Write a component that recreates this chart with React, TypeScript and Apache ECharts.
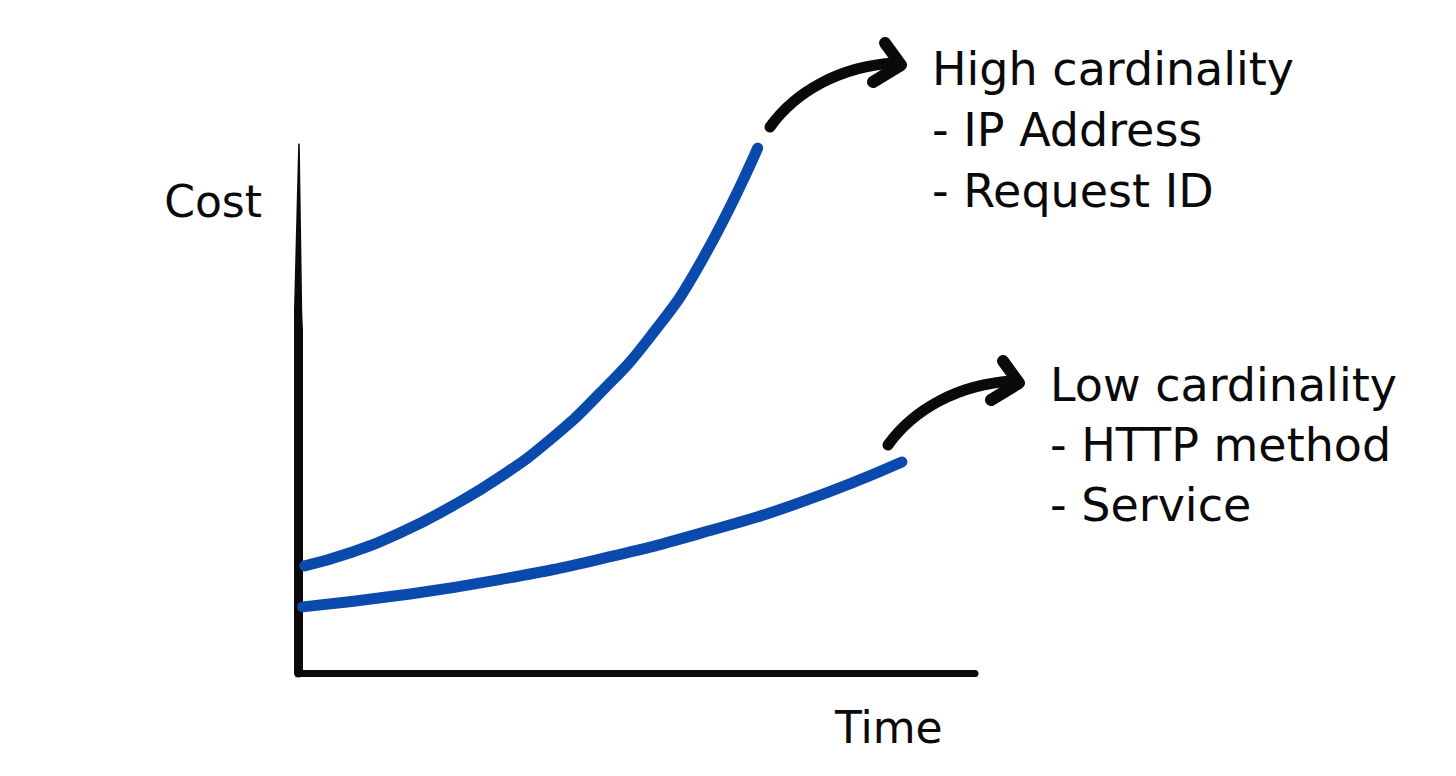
import React, { useEffect, useRef } from "react";
import * as echarts from "echarts";

// Data (Time 0–100, Cost 0–100)
const highCardinality: [number, number][] = [
  [1.0, 20.4], [7.7, 22.9], [15.1, 26.7], [22.5, 31.6], [29.8, 37.3],
  [37.2, 44.4], [44.6, 53.3], [52.0, 64.0], [59.4, 78.0], [67.9, 100],
];
const lowCardinality: [number, number][] = [
  [0.7, 12.6], [15.1, 14.8], [29.8, 17.8], [44.6, 21.7], [59.4, 26.6],
  [74.2, 32.5], [89.2, 40.2],
];
const highLabels = ["High cardinality", "- IP Address", "- Request ID"];
const lowLabels = ["Low cardinality", "- HTTP method", "- Service"];
const yName = "Cost";
const xName = "Time";

const BLUE = "#0a4aad";
const INK = "#0a0a0a";
const FONT = "DejaVu Sans";

export default function App() {
  const ref = useRef<HTMLDivElement>(null);
  useEffect(() => {
    document.body.style.margin = "0";
    const chart = echarts.init(ref.current!, null, { renderer: "svg" });

    const textEl = (t: string, x: number, y: number, align = "left", size = 46) => ({
      type: "text",
      x,
      y,
      style: {
        text: t,
        fill: INK,
        font: `${size}px "${FONT}"`,
        align,
        verticalAlign: "middle",
      },
    });

    const arrow = (dx: number, dy: number) => [
      {
        type: "bezierCurve",
        x: dx,
        y: dy,
        shape: { x1: 770, y1: 127, cpx1: 795, cpy1: 92, cpx2: 840, cpy2: 66, x2: 895, y2: 63 },
        style: { stroke: INK, lineWidth: 11, lineCap: "round", fill: "none" },
      },
      {
        type: "polyline",
        x: dx,
        y: dy,
        shape: { points: [[885, 43], [901, 65], [873, 82]] },
        style: { stroke: INK, lineWidth: 12, lineCap: "round", lineJoin: "round", fill: "none" },
      },
    ];

    // white wedges that taper the top of the hand-drawn y axis
    const taper = [
      { type: "polygon", z: 100, shape: { points: [[290, 140], [298.3, 140], [293.5, 330]] }, style: { fill: "#ffffff" } },
      { type: "polygon", z: 100, shape: { points: [[299.7, 140], [308, 140], [302.5, 330]] }, style: { fill: "#ffffff" } },
    ];

    chart.setOption({
      animation: false,
      backgroundColor: "#ffffff",
      grid: { left: 298, top: 148, width: 677, height: 525 },
      xAxis: {
        type: "value",
        min: 0,
        max: 100,
        axisLine: { show: true, lineStyle: { color: INK, width: 7 } },
        axisTick: { show: false },
        axisLabel: { show: false },
        splitLine: { show: false },
      },
      yAxis: {
        type: "value",
        min: 0,
        max: 100,
        axisLine: { show: true, lineStyle: { color: INK, width: 9 } },
        axisTick: { show: false },
        axisLabel: { show: false },
        splitLine: { show: false },
      },
      series: [
        {
          name: "High cardinality",
          type: "line",
          data: highCardinality,
          smooth: 0.5,
          showSymbol: false,
          clip: false,
          lineStyle: { color: BLUE, width: 11, cap: "round", join: "round" },
          z: 3,
        },
        {
          name: "Low cardinality",
          type: "line",
          data: lowCardinality,
          smooth: 0.5,
          showSymbol: false,
          clip: false,
          lineStyle: { color: BLUE, width: 11, cap: "round", join: "round" },
          z: 3,
        },
      ],
      graphic: [
        ...taper,
        textEl(yName, 262, 201, "right", 44),
        textEl(xName, 835, 727, "left", 44),
        ...highLabels.map((t, i) => textEl(t, 932, 69 + i * 61)),
        ...lowLabels.map((t, i) => textEl(t, 1050, 385 + i * 60)),
        ...arrow(0, 0),
        ...arrow(118, 318),
      ],
    });
    return () => chart.dispose();
  }, []);
  return <div ref={ref} style={{ width: 1456, height: 776 }} />;
}
